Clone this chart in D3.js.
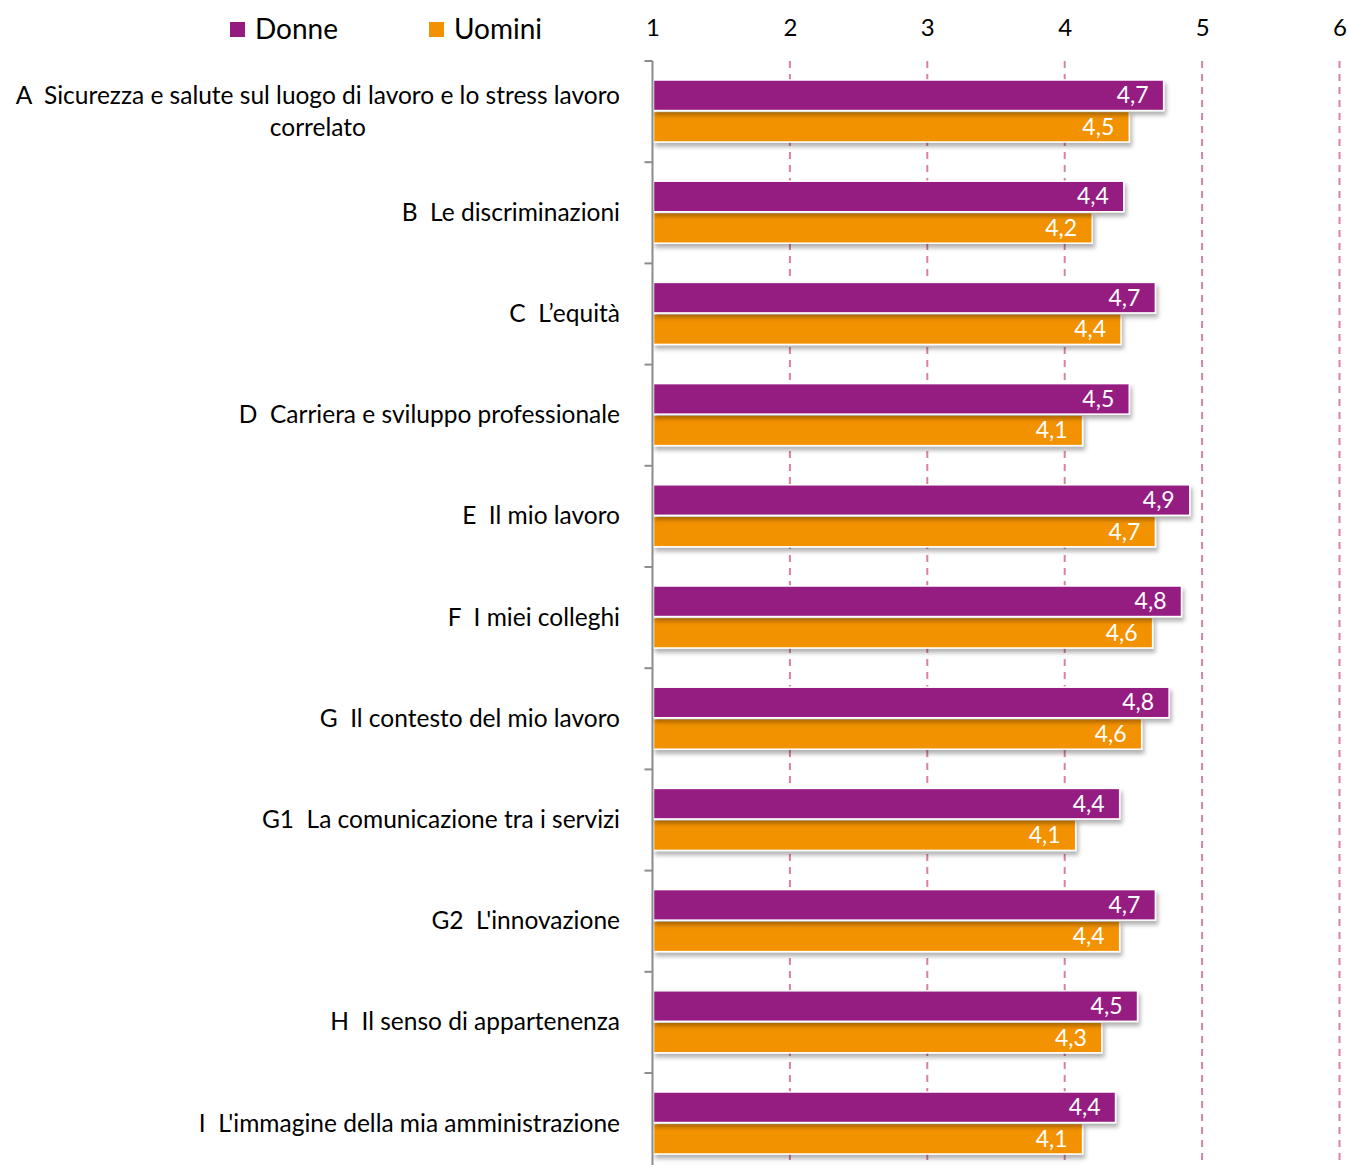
<!DOCTYPE html>
<html>
<head>
<meta charset="utf-8">
<script src="https://cdn.jsdelivr.net/npm/d3@7"></script>
<style>
  body { margin: 0; background: #fff; }
  svg { display: block; font-family: Lato, "Open Sans", sans-serif; }
</style>
</head>
<body>
<svg id="chart" width="1348" height="1165"></svg>
<script>
"use strict";

// data
const categories = [
  "A  Sicurezza e salute sul luogo di lavoro e lo stress lavoro\ncorrelato",
  "B  Le discriminazioni",
  "C  L\u2019equità",
  "D  Carriera e sviluppo professionale",
  "E  Il mio lavoro",
  "F  I miei colleghi",
  "G  Il contesto del mio lavoro",
  "G1  La comunicazione tra i servizi",
  "G2  L'innovazione",
  "H  Il senso di appartenenza",
  "I  L'immagine della mia amministrazione"
];
const donne  = [4.72, 4.43, 4.66, 4.47, 4.91, 4.85, 4.76, 4.40, 4.66, 4.53, 4.37];
const uomini = [4.47, 4.20, 4.41, 4.13, 4.66, 4.64, 4.56, 4.08, 4.40, 4.27, 4.13];
const seriesNames = ["Donne", "Uomini"];
const xTicks = [1, 2, 3, 4, 5, 6];

const colors = { Donne: "#951b81", Uomini: "#f39200" };

const svg = d3.select("#chart");

const x = d3.scaleLinear().domain([1, 6]).range([652.5, 1339.5]);
const y = d3.scaleBand().domain(categories).range([61, 61 + 101.2 * categories.length]);
const sub = d3.scaleBand().domain(seriesNames).range([19, 81]).paddingInner(0.03);

const fmt = v => v.toFixed(1).replace(".", ",");

// shadow under bars
const defs = svg.append("defs");
const f = defs.append("filter").attr("id", "shadow")
  .attr("x", "-5%").attr("y", "-30%").attr("width", "115%").attr("height", "180%");
f.append("feDropShadow").attr("dx", 2).attr("dy", 4).attr("stdDeviation", 2)
  .attr("flood-color", "#000").attr("flood-opacity", 0.3);

// dashed grid
svg.append("g").selectAll("line")
  .data(xTicks.slice(1))
  .enter().append("line")
  .attr("x1", d => x(d)).attr("x2", d => x(d))
  .attr("y1", 61).attr("y2", 1165)
  .attr("stroke", "#d9829f")
  .attr("stroke-width", 2)
  .attr("stroke-dasharray", "7,6");

// top axis labels
const gX = svg.append("g")
  .attr("transform", "translate(0,36)")
  .call(d3.axisTop(x).tickValues(xTicks).tickSize(0).tickPadding(0).tickFormat(d3.format("d")));
gX.select(".domain").remove();
gX.selectAll("text").attr("font-size", 24).attr("fill", "#000")
  .attr("font-family", "Lato, sans-serif");

// rows
const rows = categories.map((c, i) => ({ cat: c, vals: [
  { s: "Donne", v: donne[i] }, { s: "Uomini", v: uomini[i] }
]}));

const groups = svg.append("g").selectAll("g.row")
  .data(rows)
  .enter().append("g")
  .attr("class", "row")
  .attr("transform", d => "translate(0," + y(d.cat) + ")");

// Uomini drawn first so Donne's shadow sits on it
groups.selectAll("rect")
  .data(d => d.vals.slice().reverse())
  .enter().append("rect")
  .attr("x", x(1) + 1)
  .attr("y", d => sub(d.s))
  .attr("width", d => x(d.v) - x(1) - 1)
  .attr("height", sub.bandwidth())
  .attr("fill", d => colors[d.s])
  .attr("stroke", "#fff")
  .attr("stroke-width", 1.5)
  .attr("filter", "url(#shadow)");

groups.selectAll("text.val")
  .data(d => d.vals)
  .enter().append("text")
  .attr("class", "val")
  .attr("x", d => x(d.v) - 15)
  .attr("y", d => sub(d.s) + sub.bandwidth() / 2 + 8)
  .attr("text-anchor", "end")
  .attr("font-size", 23)
  .attr("fill", "#fff")
  .text(d => fmt(d.v));

// left axis line with ticks at band edges
const gY = svg.append("g").attr("transform", "translate(" + x(1) + ",0)");
gY.append("line")
  .attr("y1", 61).attr("y2", 1165)
  .attr("stroke", "#8c8c8c").attr("stroke-width", 2);
gY.selectAll("line.tick")
  .data(categories)
  .enter().append("line")
  .attr("class", "tick")
  .attr("x1", -8).attr("x2", 0)
  .attr("y1", d => y(d)).attr("y2", d => y(d))
  .attr("stroke", "#8c8c8c").attr("stroke-width", 2);

// category labels, right aligned, wrapped lines centred on the first
const labels = svg.append("g").selectAll("text.cat")
  .data(categories)
  .enter().append("text")
  .attr("class", "cat")
  .attr("font-size", 24.5)
  .attr("fill", "#000")
  .style("white-space", "pre");

labels.each(function(d) {
  const lines = d.split("\n");
  const t = d3.select(this);
  const mid = y(d) + y.bandwidth() / 2;
  const lh = 32;
  const top = mid - (lines.length - 1) * lh / 2 + 8;
  const first = t.append("tspan").attr("x", 620).attr("y", top)
    .attr("text-anchor", "end").text(lines[0]);
  const w = first.node().getComputedTextLength();
  lines.slice(1).forEach((ln, k) => {
    t.append("tspan").attr("x", 620 - w / 2).attr("y", top + lh * (k + 1))
      .attr("text-anchor", "middle").text(ln);
  });
});

// legend
const legendX = [230, 429];
const leg = svg.append("g").selectAll("g")
  .data(seriesNames)
  .enter().append("g")
  .attr("transform", (d, i) => "translate(" + legendX[i] + ",0)");
leg.append("rect").attr("x", 0).attr("y", 22).attr("width", 15).attr("height", 15)
  .attr("fill", d => colors[d]);
leg.append("text").attr("x", 25).attr("y", 39)
  .attr("font-size", 28).attr("fill", "#000").text(d => d);
</script>
</body>
</html>
